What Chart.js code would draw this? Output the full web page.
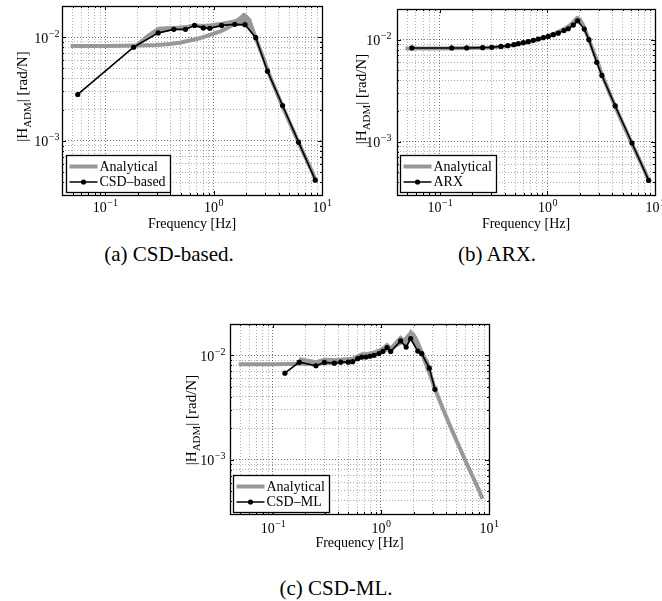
<!DOCTYPE html>
<html><head><meta charset="utf-8">
<script src="https://cdn.jsdelivr.net/npm/chart.js@4.4.0/dist/chart.umd.min.js"></script>
<style>
html,body{margin:0;padding:0;background:#fff;}
body{width:662px;height:601px;position:relative;overflow:hidden;}
canvas{position:absolute;}
.cap{position:absolute;font-family:"Liberation Serif","Times New Roman",serif;font-size:21px;color:#000;white-space:nowrap;transform:translate(-50%,-50%);}
</style></head><body>
<canvas id="ca" width="331" height="235" style="left:0;top:0"></canvas>
<canvas id="cb" width="331" height="235" style="left:331px;top:0"></canvas>
<canvas id="cc" width="345" height="236" style="left:165px;top:318px"></canvas>
<div class="cap" style="left:169px;top:254px">(a) CSD-based.</div>
<div class="cap" style="left:497px;top:254px">(b) ARX.</div>
<div class="cap" style="left:336px;top:588px">(c) CSD-ML.</div>
<script>
// ---- data ----
const analyticalFreq = [0.048, 0.1, 0.2, 0.3, 0.4, 0.5, 0.6, 0.7, 0.8, 0.9, 1.0, 1.1, 1.2, 1.3, 1.4, 1.5, 1.6, 1.7, 1.8, 1.9, 2.0, 2.1, 2.2, 2.4, 2.6, 2.9, 3.2, 3.6, 4.0, 4.5, 5.0, 5.5, 6.0, 7.0, 8.0, 8.7];
const analyticalMag = [0.0082, 0.0082, 0.0083, 0.0084, 0.0086, 0.0089, 0.0093, 0.0096, 0.0100, 0.0104, 0.0108, 0.0112, 0.0116, 0.0121, 0.0126, 0.0131, 0.0137, 0.0145, 0.0155, 0.0164, 0.0158, 0.0145, 0.0131, 0.0104, 0.0083, 0.0062, 0.0046, 0.0034, 0.0026, 0.00195, 0.00152, 0.00122, 0.00099, 0.00070, 0.00052, 0.00042];

const csdFreq = [0.0559, 0.183, 0.308, 0.43, 0.551, 0.667, 0.803, 0.924, 1.186, 1.57, 1.95, 2.45, 3.14, 4.33, 6.08, 8.67];
const csdMag = [0.0028, 0.0080, 0.0110, 0.0119, 0.0119, 0.0130, 0.0123, 0.0122, 0.0130, 0.0133, 0.0132, 0.0099, 0.0047, 0.00219, 0.00097, 0.000417];
const bandAFreq = [0.183, 0.24, 0.308, 0.43, 0.551, 0.667, 0.803, 0.924, 1.186, 1.57, 1.95, 2.2, 2.45];
const bandAHi = [0.0082, 0.0105, 0.0125, 0.0127, 0.0129, 0.0134, 0.0133, 0.0134, 0.0139, 0.0147, 0.0168, 0.0150, 0.0104];
const bandALo = [0.0079, 0.0094, 0.0109, 0.0118, 0.0118, 0.0128, 0.0121, 0.0120, 0.0128, 0.0131, 0.0130, 0.0113, 0.0096];

const arxFreq = [0.055, 0.129, 0.178, 0.25, 0.303, 0.37, 0.428, 0.489, 0.536, 0.597, 0.664, 0.739, 0.822, 0.916, 1.019, 1.134, 1.262, 1.425, 1.563, 1.74, 1.91, 2.20, 2.43, 2.87, 3.21, 4.27, 6.11, 8.73];
const arxMag = [0.0083, 0.0083, 0.0083, 0.00836, 0.00842, 0.0086, 0.00874, 0.00894, 0.00914, 0.00935, 0.00956, 0.00985, 0.01016, 0.01046, 0.01077, 0.0112, 0.0116, 0.0123, 0.0128, 0.0139, 0.0153, 0.0127, 0.0100, 0.0060, 0.00446, 0.00224, 0.00097, 0.000417];

const mlFreq = [0.129, 0.175, 0.25, 0.299, 0.37, 0.424, 0.498, 0.547, 0.608, 0.662, 0.726, 0.791, 0.861, 0.959, 1.04, 1.14, 1.23, 1.52, 1.71, 1.88, 2.19, 2.38, 2.80, 3.16];
const mlMag = [0.00674, 0.00861, 0.00795, 0.00855, 0.00842, 0.00861, 0.00861, 0.0087, 0.0093, 0.00963, 0.00963, 0.0098, 0.0100, 0.0104, 0.0109, 0.0119, 0.0109, 0.01375, 0.0120, 0.01451, 0.0110, 0.0104, 0.00754, 0.00472];
const bandCFreq = [0.175, 0.25, 0.299, 0.37, 0.424, 0.498, 0.547, 0.608, 0.662, 0.726, 0.791, 0.861, 0.959, 1.04, 1.14, 1.23, 1.52, 1.71, 1.88, 2.19, 2.38, 2.80, 3.16];
const bandCHi = [0.0095, 0.0089, 0.0094, 0.0093, 0.0094, 0.0095, 0.0096, 0.0102, 0.0106, 0.0106, 0.0108, 0.0110, 0.0115, 0.0121, 0.0132, 0.0122, 0.0155, 0.0136, 0.0178, 0.0126, 0.0116, 0.0084, 0.0051];
const bandCLo = [0.0084, 0.0078, 0.0083, 0.0082, 0.0084, 0.0084, 0.0085, 0.0091, 0.0094, 0.0094, 0.0096, 0.0098, 0.0101, 0.0107, 0.0116, 0.0107, 0.0135, 0.0118, 0.0142, 0.0108, 0.0102, 0.0074, 0.0046];

const tickBase = '10';
const xTickValues = [0.1, 1, 10];
const xTickExponents = ['\u22121', '0', '1'];
const yTickValues = [0.001, 0.01];
const yTickExponents = ['\u22123', '\u22122'];
const xRange = [0.04, 10];
const yRange = [0.0003, 0.02];

// ---- helpers ----
const FONT = '"Liberation Serif","Times New Roman",serif';
const GREY = 'rgb(152,152,152)';
function pts(xs, ys) { return xs.map((x, i) => ({x: x, y: ys[i]})); }
function logGrid(min, max) {
  const out = [];
  for (let e = Math.floor(Math.log10(min)); e <= Math.ceil(Math.log10(max)); e++) {
    for (let m = 1; m <= 9; m++) {
      const v = parseFloat((m * Math.pow(10, e)).toPrecision(6));
      if (v >= min * 0.999 && v <= max * 1.001) out.push(v);
    }
  }
  return out;
}
function isDecade(v) { const l = Math.log10(v); return Math.abs(l - Math.round(l)) < 1e-6; }

function drawPow(ctx, exp, x, baseline, align) {
  ctx.font = '14px ' + FONT;
  const w1 = ctx.measureText(tickBase).width;
  ctx.font = '10px ' + FONT;
  const w2 = ctx.measureText(exp).width;
  const total = w1 + w2;
  const x0 = align === 'center' ? x - total / 2 : x - total;
  ctx.textAlign = 'left';
  ctx.textBaseline = 'alphabetic';
  ctx.font = '14px ' + FONT;
  ctx.fillText(tickBase, x0, baseline);
  ctx.font = '10px ' + FONT;
  ctx.fillText(exp, x0 + w1 + 0.5, baseline - 6);
}

const decorPlugin = {
  id: 'decor',
  afterDatasetsDraw(chart) {
    const ctx = chart.ctx, ca = chart.chartArea;
    const xs = chart.scales.x, ys = chart.scales.y;
    ctx.save();
    ctx.strokeStyle = '#000';
    ctx.lineWidth = 1;
    ctx.beginPath();
    xs.ticks.forEach(t => {
      const p = Math.round(xs.getPixelForValue(t.value)) + 0.5;
      const len = isDecade(t.value) ? 4 : 2;
      ctx.moveTo(p, ca.bottom); ctx.lineTo(p, ca.bottom - len);
      ctx.moveTo(p, ca.top); ctx.lineTo(p, ca.top + len);
    });
    ys.ticks.forEach(t => {
      const p = Math.round(ys.getPixelForValue(t.value)) + 0.5;
      const len = isDecade(t.value) ? 4 : 2;
      ctx.moveTo(ca.left, p); ctx.lineTo(ca.left + len, p);
      ctx.moveTo(ca.right, p); ctx.lineTo(ca.right - len, p);
    });
    ctx.stroke();
    ctx.lineWidth = 1.3;
    ctx.strokeRect(Math.round(ca.left) + 0.5, Math.round(ca.top) + 0.5, Math.round(ca.right - ca.left), Math.round(ca.bottom - ca.top));
    ctx.restore();
  },
  afterDraw(chart, args, opts) {
    const ctx = chart.ctx, ca = chart.chartArea;
    const xs = chart.scales.x, ys = chart.scales.y;
    // tick labels 10^n, placed by the scales
    ctx.save();
    ctx.fillStyle = '#000';
    xTickValues.forEach((v, i) => drawPow(ctx, xTickExponents[i], xs.getPixelForValue(v), ca.bottom + opts.xLabelDy, 'center'));
    yTickValues.forEach((v, i) => drawPow(ctx, yTickExponents[i], ca.left - opts.yLabelGap, ys.getPixelForValue(v) + 5.5, 'right'));
    ctx.restore();
    // legend box (bottom-left, inside plot)
    ctx.save();
    ctx.font = '14px ' + FONT;
    const items = [
      {label: chart.data.datasets[1].label, grey: true},
      {label: chart.data.datasets[0].label, grey: false}
    ];
    const maxW = Math.max(...items.map(it => ctx.measureText(it.label).width));
    const bl = Math.round(ca.left + opts.legendDx) + 0.5;
    const bh = 37;
    const bb = Math.round(ca.bottom - opts.legendDy) + 0.5;
    const bt = bb - bh;
    const bw = Math.round(33 + maxW + 5);
    ctx.fillStyle = '#fff';
    ctx.fillRect(bl, bt, bw, bh);
    ctx.strokeStyle = '#000';
    ctx.lineWidth = 1.3;
    ctx.strokeRect(bl, bt, bw, bh);
    items.forEach((it, i) => {
      const y = bt + 11 + i * 15.5;
      ctx.beginPath();
      ctx.moveTo(bl + 3, y); ctx.lineTo(bl + 31, y);
      ctx.strokeStyle = it.grey ? GREY : '#000';
      ctx.lineWidth = it.grey ? 4 : 1.5;
      ctx.stroke();
      if (!it.grey) {
        ctx.beginPath(); ctx.arc(bl + 17, y, 2.6, 0, Math.PI * 2); ctx.fillStyle = '#000'; ctx.fill();
      }
      ctx.fillStyle = '#000';
      ctx.textBaseline = 'middle';
      ctx.textAlign = 'left';
      ctx.fillText(it.label, bl + 33, y + 0.5);
    });
    ctx.restore();
    // rotated y-axis title with subscript
    ctx.save();
    const size = 15;
    const f1 = size + 'px ' + FONT, f2 = Math.round(size * 0.72) + 'px ' + FONT;
    const parts = [{t: '|H', f: f1, dy: 0}, {t: 'ADM', f: f2, dy: size * 0.28}, {t: '| [rad/N]', f: f1, dy: 0}];
    let total = 0;
    parts.forEach(p => { ctx.font = p.f; p.w = ctx.measureText(p.t).width; total += p.w; });
    ctx.translate(ca.left - opts.yTitleDx, (ca.top + ca.bottom) / 2 + opts.yTitleDy);
    ctx.rotate(-Math.PI / 2);
    ctx.fillStyle = '#000';
    ctx.textBaseline = 'alphabetic';
    ctx.textAlign = 'left';
    let x = -total / 2;
    parts.forEach(p => { ctx.font = p.f; ctx.fillText(p.t, x, p.dy); x += p.w; });
    ctx.restore();
  }
};

function makeChart(id, panel) {
  const xGrid = logGrid(xRange[0], xRange[1]);
  const yGrid = logGrid(yRange[0], yRange[1]);
  const datasets = [
    {label: panel.label, data: pts(panel.freq, panel.mag), showLine: true, borderColor: '#000', borderWidth: 1.6,
     pointRadius: 2.6, pointBackgroundColor: '#000', pointBorderWidth: 0, tension: 0, order: 1, fill: false},
    {label: 'Analytical', data: pts(analyticalFreq, analyticalMag), showLine: true, borderColor: GREY, borderWidth: 4,
     pointRadius: 0, tension: 0, order: 2, fill: false, borderJoinStyle: 'round', borderCapStyle: 'butt'}
  ];
  if (panel.bandFreq) {
    datasets.push({label: 'bandLo', data: pts(panel.bandFreq, panel.bandLo), showLine: true, borderColor: GREY, borderWidth: 1,
      pointRadius: 0, tension: 0, order: 3, fill: false});
    datasets.push({label: 'bandHi', data: pts(panel.bandFreq, panel.bandHi), showLine: true, borderColor: GREY, borderWidth: 1,
      pointRadius: 0, tension: 0, order: 3, fill: 2, backgroundColor: GREY});
  }
  const gridColor = c => (c.tick && isDecade(c.tick.value)) ? 'rgba(0,0,0,0.55)' : 'rgba(0,0,0,0.32)';
  return new Chart(document.getElementById(id), {
    type: 'scatter',
    data: {datasets: datasets},
    plugins: [decorPlugin],
    options: {
      responsive: false, animation: false, maintainAspectRatio: false,
      layout: {padding: panel.padding},
      plugins: {legend: {display: false}, tooltip: {enabled: false},
        decor: {legendDx: panel.legendDx, legendDy: panel.legendDy, yTitleDx: panel.yTitleDx, yTitleDy: panel.yTitleDy,
                xLabelDy: panel.xLabelDy, yLabelGap: panel.yLabelGap}},
      scales: {
        x: {
          type: 'logarithmic', position: 'bottom', min: xRange[0], max: xRange[1],
          afterBuildTicks: s => { s.ticks = xGrid.map(v => ({value: v, major: isDecade(v)})); },
          afterFit: s => { s.height = 40; s.paddingLeft = 0; s.paddingRight = 0; s.paddingTop = 0; s.paddingBottom = 0; },
          ticks: {display: false},
          grid: {drawTicks: false, color: gridColor, lineWidth: 1},
          border: {display: false, dash: [1, 2]},
          title: {display: true, text: 'Frequency [Hz]', color: '#000', font: {family: FONT, size: 14},
            padding: {top: 0, bottom: 2}}
        },
        y: {
          type: 'logarithmic', position: 'left', min: yRange[0], max: yRange[1],
          afterBuildTicks: s => { s.ticks = yGrid.map(v => ({value: v, major: isDecade(v)})); },
          afterFit: s => { s.width = panel.yWidth; s.paddingLeft = 0; s.paddingRight = 0; s.paddingTop = 0; s.paddingBottom = 0; },
          ticks: {display: false},
          grid: {drawTicks: false, color: gridColor, lineWidth: 1},
          border: {display: false, dash: [1, 2]}
        }
      }
    }
  });
}

makeChart('ca', {label: 'CSD\u2013based', freq: csdFreq, mag: csdMag,
  bandFreq: bandAFreq, bandHi: bandAHi, bandLo: bandALo,
  padding: {top: 6, right: 9, left: 0, bottom: 0}, yWidth: 62, yLabelGap: 3, xLabelDy: 17,
  legendDx: 4, legendDy: 3, yTitleDx: 35.5, yTitleDy: -4});
makeChart('cb', {label: 'ARX', freq: arxFreq, mag: arxMag,
  padding: {top: 9, right: 7, left: 0, bottom: 0}, yWidth: 66, yLabelGap: 6, xLabelDy: 17,
  legendDx: 3, legendDy: 3, yTitleDx: 31, yTitleDy: -3});
makeChart('cc', {label: 'CSD\u2013ML', freq: mlFreq, mag: mlMag,
  bandFreq: bandCFreq, bandHi: bandCHi, bandLo: bandCLo,
  padding: {top: 6, right: 21, left: 0, bottom: 0}, yWidth: 65, yLabelGap: 5, xLabelDy: 19,
  legendDx: 3, legendDy: 2, yTitleDx: 34, yTitleDy: 1});
</script>
</body></html>
